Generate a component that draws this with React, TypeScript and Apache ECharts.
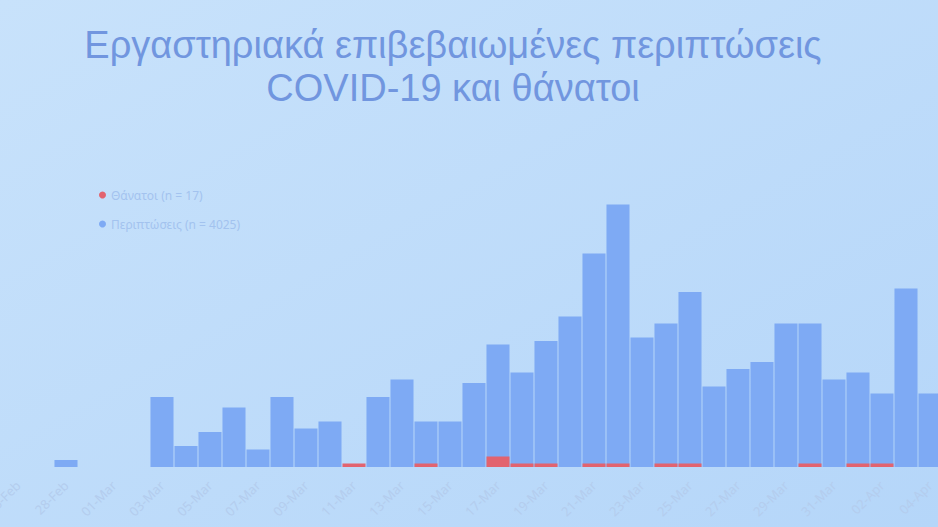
import React, { useEffect, useRef } from "react";
import * as echarts from "echarts";

const titleLine1 = "Εργαστηριακά επιβεβαιωμένες περιπτώσεις";
const titleLine2 = "COVID-19 και θάνατοι";
const deathsName = "Θάνατοι (n = 17)";
const casesName = "Περιπτώσεις (n = 4025)";

const dates = [
  "26-Feb", "27-Feb", "28-Feb", "29-Feb",
  "01-Mar", "02-Mar", "03-Mar", "04-Mar", "05-Mar", "06-Mar", "07-Mar", "08-Mar",
  "09-Mar", "10-Mar", "11-Mar", "12-Mar", "13-Mar", "14-Mar", "15-Mar", "16-Mar",
  "17-Mar", "18-Mar", "19-Mar", "20-Mar", "21-Mar", "22-Mar", "23-Mar", "24-Mar",
  "25-Mar", "26-Mar", "27-Mar", "28-Mar", "29-Mar", "30-Mar", "31-Mar",
  "01-Apr", "02-Apr", "03-Apr", "04-Apr",
];

const cases = [
  0, 0, 2, 0, 0, 0, 20, 6, 10, 17, 5, 20, 11, 13, 0, 20, 25, 13, 13, 24,
  35, 27, 36, 43, 61, 75, 37, 41, 50, 23, 28, 30, 41, 41, 25, 27, 21, 51, 21,
];

const deaths = [
  0, 0, 0, 0, 0, 0, 0, 0, 0, 0, 0, 0, 0, 0, 1, 0, 0, 1, 0, 0,
  3, 1, 1, 0, 1, 1, 0, 1, 1, 0, 0, 0, 0, 1, 0, 1, 1, 0, 0,
];

export default function App() {
  const ref = useRef<HTMLDivElement>(null);
  useEffect(() => {
    document.body.style.margin = "0";
    const chart = echarts.init(ref.current!, null, { renderer: "svg" });
    chart.setOption({
      animation: false,
      backgroundColor: {
        type: "linear",
        x: 0, y: 0, x2: 1, y2: 1,
        colorStops: [
          { offset: 0, color: "#c8e2fb" },
          { offset: 1, color: "#b5d6f9" },
        ],
      },
      graphic: [
        {
          type: "text",
          x: 453,
          y: 66,
          style: {
            text: titleLine1 + "\n" + titleLine2,
            fill: "#7196df",
            font: "38px 'Liberation Sans'",
            lineHeight: 43,
            align: "center",
            verticalAlign: "middle",
          },
        },
      ],
      legend: {
        orient: "vertical",
        left: 94,
        top: 184,
        itemGap: 17,
        icon: "circle",
        itemWidth: 7,
        itemHeight: 7,
        textStyle: { color: "#a3c3ef", fontSize: 12, fontFamily: "Noto Sans" },
        data: [deathsName, casesName],
      },
      grid: {
        left: 6,
        right: -4,
        top: 187,
        bottom: 60,
        outerBoundsMode: "none",
        containLabel: false,
      },
      xAxis: {
        type: "category",
        data: dates,
        axisLine: { show: false },
        axisTick: { show: false },
        axisLabel: {
          interval: 1,
          rotate: 45,
          color: "#b4cdee",
          fontSize: 13,
          fontFamily: "Noto Sans",
          margin: 16,
        },
      },
      yAxis: {
        type: "value",
        min: 0,
        max: 80,
        show: false,
        splitLine: { show: false },
      },
      series: [
        {
          name: casesName,
          type: "bar",
          data: cases,
          barCategoryGap: "4%",
          itemStyle: { color: "#7eaaf4" },
          z: 2,
        },
        {
          name: deathsName,
          type: "bar",
          data: deaths,
          barGap: "-100%",
          barCategoryGap: "4%",
          itemStyle: { color: "#e2636f" },
          z: 3,
        },
      ],
    });
    return () => chart.dispose();
  }, []);
  return (
    <div
      ref={ref}
      style={{ position: "absolute", left: 0, top: 0, width: 938, height: 527 }}
    />
  );
}
